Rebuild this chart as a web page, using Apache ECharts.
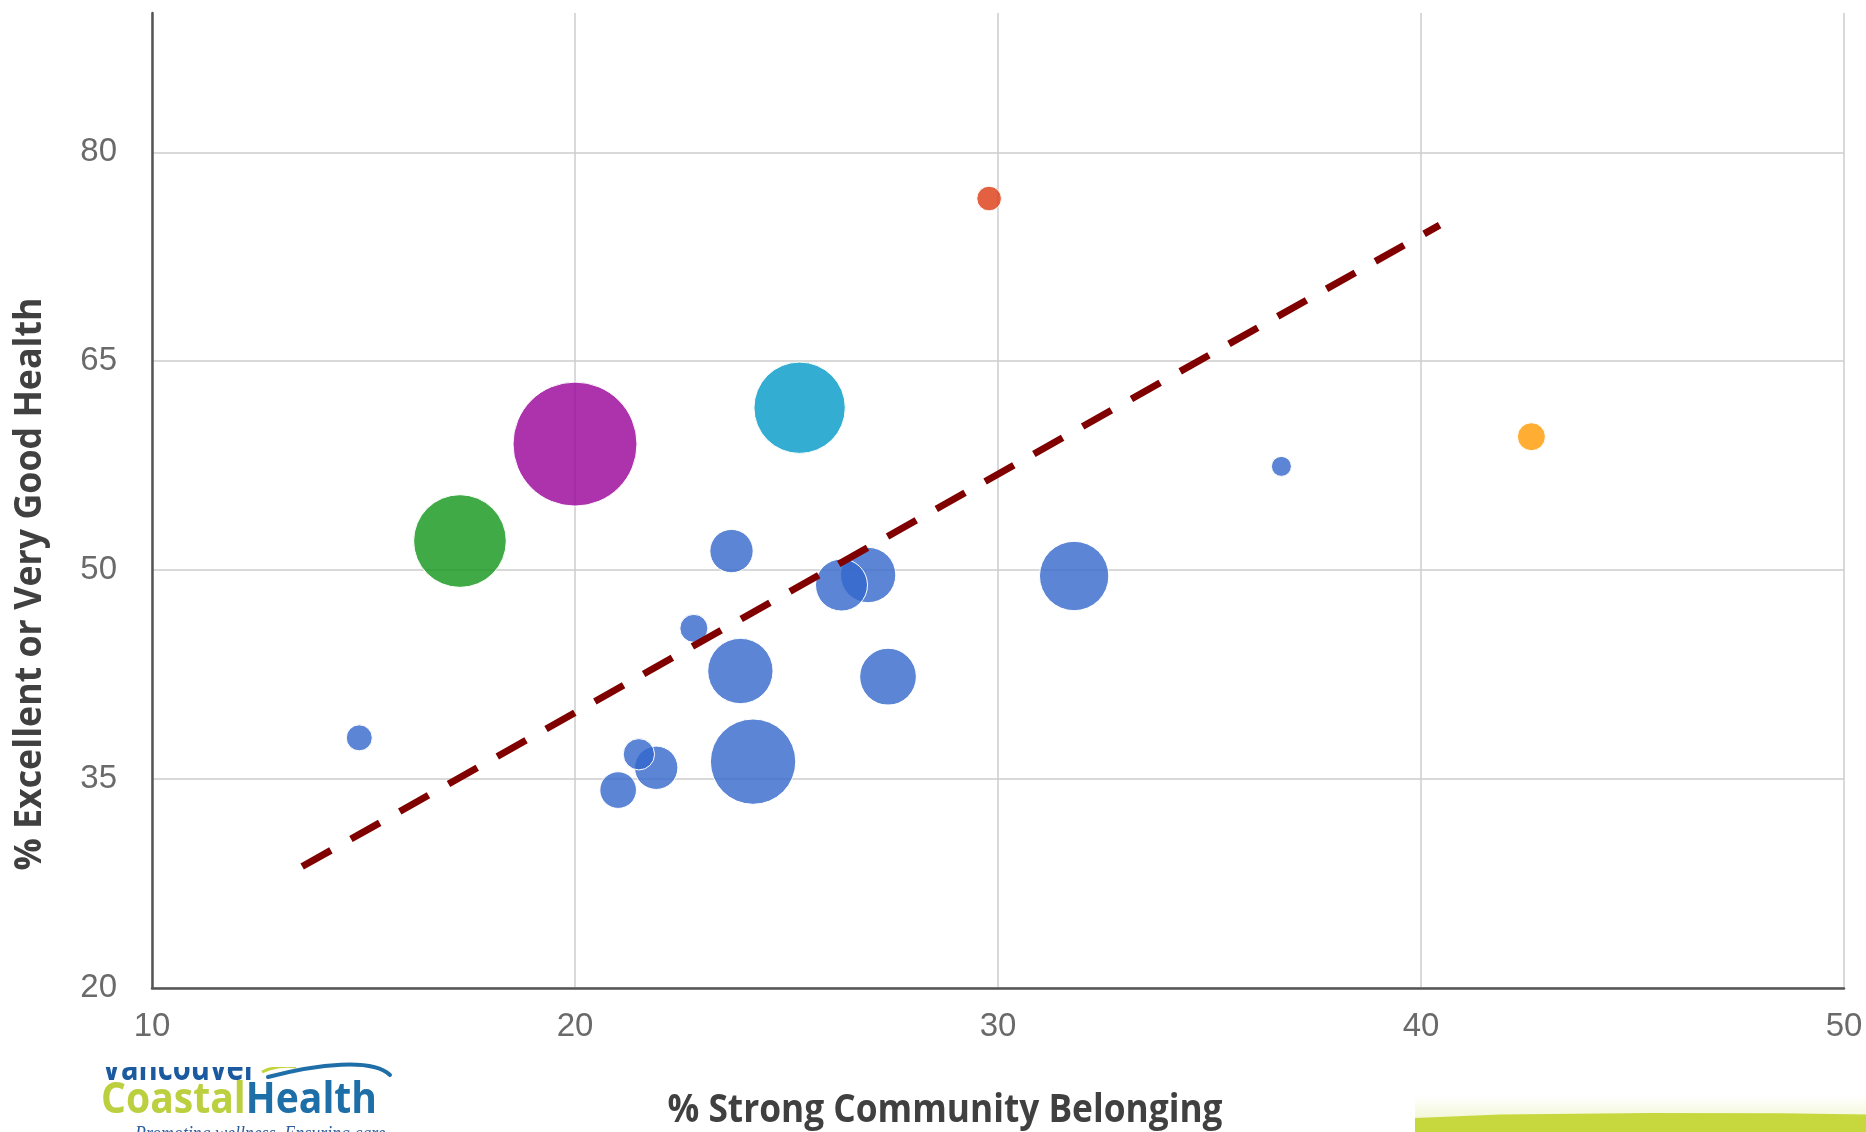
<!DOCTYPE html>
<html>
<head>
<meta charset="utf-8">
<script src="https://cdn.jsdelivr.net/npm/echarts@6/dist/echarts.min.js"></script>
<style>
  html, body { margin: 0; padding: 0; background: #ffffff; }
  #chart { width: 1866px; height: 1132px; }
</style>
</head>
<body>
<div id="chart"></div>
<script>
// Community belonging vs. self-rated health, one bubble per community area
const belonging  = [29.79, 25.31, 20.00, 17.28, 42.61, 36.70, 31.80, 26.93, 26.30, 23.70, 22.81, 23.91, 27.40, 24.21, 21.92, 21.51, 21.02, 14.90];
const goodHealth = [76.68, 61.66, 59.05, 52.09, 59.58, 57.45, 49.58, 49.65, 48.93, 51.37, 45.82, 42.76, 42.35, 36.25, 35.81, 36.78, 34.21, 37.96];
const population = [37, 137, 186, 139, 42, 30, 104, 83, 78, 65, 42, 98, 85, 128, 65, 47, 55, 39];
const region     = [1, 5, 4, 3, 2, 0, 0, 0, 0, 0, 0, 0, 0, 0, 0, 0, 0, 0];

// Trend line end points
const trendX = [13.55, 40.44];
const trendY = [28.72, 74.77];

// Axis ticks
const xTicks = [10, 20, 30, 40, 50];
const yTicks = [20, 35, 50, 65, 80];
const yTop = 90;

const xTitle = '% Strong Community Belonging';
const yTitle = '% Excellent or Very Good Health';

const palette = ['#3366cc', '#dc3912', '#ff9900', '#109618', '#990099', '#0099c6'];

function hexA(hex, a) {
  const n = parseInt(hex.slice(1), 16);
  return 'rgba(' + (n >> 16) + ',' + ((n >> 8) & 255) + ',' + (n & 255) + ',' + a + ')';
}

const popMin = Math.min.apply(null, population);
const popMax = Math.max.apply(null, population);
const rMin = 10, rMax = 62;
function bubbleDiameter(v) {
  return 2 * (rMin + (v - popMin) / (popMax - popMin) * (rMax - rMin));
}

const bubbles = belonging.map((x, i) => ({
  value: [x, goodHealth[i], population[i]],
  itemStyle: { color: hexA(palette[region[i]], 0.8) }
}));

// text width helper for fitting titles/logo text to a given span
const ctx = document.createElement('canvas').getContext('2d');
function textWidth(txt, font) { ctx.font = font; return ctx.measureText(txt).width; }
function fit(txt, font, target) { return target / textWidth(txt, font); }

const titleFontX = 'bold 40px "Open Sans"';
const titleFontY = 'bold 38px "Open Sans"';
const vanFont = 'bold 38px "Open Sans"';
const chFont = 'bold 43px "Open Sans"';
const tagFont = 'italic 21px "Liberation Serif"';

const chScale = fit('CoastalHealth', chFont, 276);
const coastalW = textWidth('Coastal', chFont) * chScale;

const chart = echarts.init(document.getElementById('chart'), null, { renderer: 'canvas' });

chart.setOption({
  animation: false,
  backgroundColor: '#ffffff',
  grid: { left: 152, right: 22, top: 13, bottom: 144 },
  xAxis: {
    type: 'value',
    min: xTicks[0],
    max: xTicks[xTicks.length - 1],
    interval: xTicks[1] - xTicks[0],
    axisLine: { show: true, lineStyle: { color: '#555555', width: 2.5 } },
    axisTick: { show: false },
    axisLabel: { fontSize: 33, color: '#6a6a6a', fontFamily: '"Liberation Sans", Arial, sans-serif', margin: 22 },
    splitLine: { show: true, lineStyle: { color: '#cccccc', width: 1.5 } }
  },
  yAxis: {
    type: 'value',
    min: yTicks[0],
    max: yTop,
    interval: yTicks[1] - yTicks[0],
    axisLine: { show: true, lineStyle: { color: '#555555', width: 2.5 } },
    axisTick: { show: false },
    axisLabel: { fontSize: 33, color: '#6a6a6a', fontFamily: '"Liberation Sans", Arial, sans-serif', margin: 35, showMaxLabel: false },
    splitLine: { show: true, showMaxLine: false, lineStyle: { color: '#cccccc', width: 1.5 } }
  },
  series: [
    {
      type: 'scatter',
      data: bubbles,
      symbolSize: (val) => bubbleDiameter(val[2]),
      itemStyle: { borderColor: '#ffffff', borderWidth: 1, opacity: 1 },
      silent: true,
      z: 3
    },
    {
      type: 'line',
      data: trendX.map((x, i) => [x, trendY[i]]),
      symbol: 'none',
      lineStyle: { color: '#800000', width: 7, type: [33, 23], cap: 'butt' },
      silent: true,
      z: 4
    }
  ],
  graphic: [
    // axis titles
    {
      type: 'text', x: 30, y: 584, rotation: Math.PI / 2,
      scaleX: fit(yTitle, titleFontY, 573),
      style: { text: yTitle, font: titleFontY, fill: '#404040', align: 'center', verticalAlign: 'middle', textAlign: 'center', textVerticalAlign: 'middle' }
    },
    {
      type: 'text', x: 945, y: 1111,
      scaleX: fit(xTitle, titleFontX, 555),
      style: { text: xTitle, font: titleFontX, fill: '#404040', align: 'center', verticalAlign: 'middle', textAlign: 'center', textVerticalAlign: 'middle' }
    },
    // logo
    {
      type: 'text', x: 102, y: 1069,
      scaleX: fit('Vancouver', vanFont, 155),
      style: { text: 'Vancouver', font: vanFont, fill: '#1b5a9f', align: 'left', verticalAlign: 'middle', textAlign: 'left', textVerticalAlign: 'middle' }
    },
    {
      type: 'bezierCurve',
      shape: { x1: 262, y1: 1072, x2: 296, y2: 1067, cpx1: 272, cpy1: 1067, cpx2: 286, cpy2: 1065 },
      style: { stroke: '#c3d33a', lineWidth: 3, fill: null }
    },
    {
      type: 'rect',
      shape: { x: 90, y: 1044, width: 320, height: 23 },
      style: { fill: '#ffffff' }
    },
    {
      type: 'bezierCurve',
      shape: { x1: 268, y1: 1077, x2: 390, y2: 1075, cpx1: 318, cpy1: 1064, cpx2: 372, cpy2: 1058 },
      style: { stroke: '#1e6ea7', lineWidth: 4, fill: null, lineCap: 'round' }
    },
    {
      type: 'text', x: 101, y: 1101,
      scaleX: chScale,
      style: { text: 'Coastal', font: chFont, fill: '#bccf3e', align: 'left', verticalAlign: 'middle', textAlign: 'left', textVerticalAlign: 'middle' }
    },
    {
      type: 'text', x: 101 + coastalW, y: 1101,
      scaleX: chScale,
      style: { text: 'Health', font: chFont, fill: '#1e6ea7', align: 'left', verticalAlign: 'middle', textAlign: 'left', textVerticalAlign: 'middle' }
    },
    {
      type: 'text', x: 135, y: 1134,
      scaleX: fit('Promoting wellness. Ensuring care.', tagFont, 255),
      style: { text: 'Promoting wellness. Ensuring care.', font: tagFont, fill: '#2d5f9e', align: 'left', verticalAlign: 'middle', textAlign: 'left', textVerticalAlign: 'middle' }
    },
    // green band, lower right
    {
      type: 'rect',
      shape: { x: 1415, y: 1096, width: 451, height: 22 },
      style: {
        fill: {
          type: 'linear', x: 0, y: 0, x2: 0, y2: 1,
          colorStops: [{ offset: 0, color: 'rgba(235,242,190,0)' }, { offset: 1, color: 'rgba(235,242,190,0.6)' }]
        }
      }
    },
    {
      type: 'polygon',
      shape: { points: [[1415, 1132], [1415, 1118], [1500, 1114.6], [1650, 1113], [1780, 1113.3], [1866, 1114.5], [1866, 1132]] },
      style: { fill: '#c6d83e' }
    }
  ]
});
</script>
</body>
</html>
